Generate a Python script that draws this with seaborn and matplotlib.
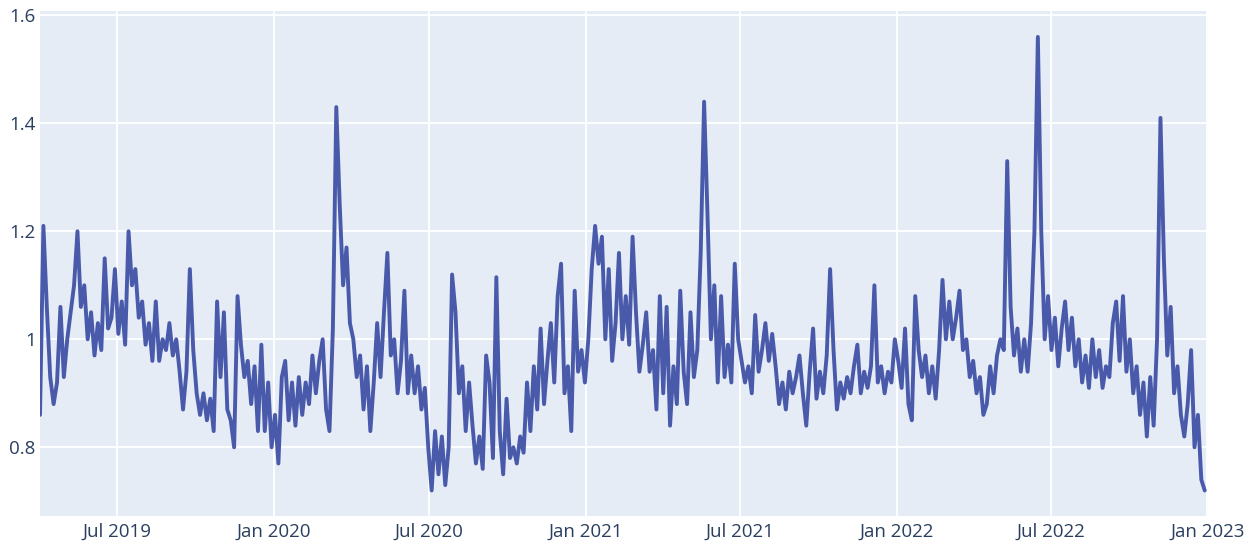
import pandas as pd
import numpy as np
import matplotlib
matplotlib.use("Agg")
import matplotlib.pyplot as plt
import matplotlib.dates as mdates
import seaborn as sb

# readings every 4 days starting 2019-04-01
start_date = "2019-04-01"
step = "4D"
values = [
    0.86, 1.21, 1.06, 0.93, 0.88, 0.92, 1.06, 0.93, 1.0, 1.05,
    1.1, 1.2, 1.06, 1.1, 1.0, 1.05, 0.97, 1.03, 0.98, 1.15,
    1.02, 1.04, 1.13, 1.01, 1.07, 0.99, 1.2, 1.1, 1.13, 1.04,
    1.07, 0.99, 1.03, 0.96, 1.07, 0.96, 1.0, 0.98, 1.03, 0.97,
    1.0, 0.94, 0.87, 0.94, 1.13, 0.98, 0.9, 0.86, 0.9, 0.85,
    0.89, 0.83, 1.07, 0.93, 1.05, 0.87, 0.85, 0.80, 1.08, 0.99,
    0.93, 0.96, 0.88, 0.95, 0.83, 0.99, 0.83, 0.92, 0.8, 0.86,
    0.77, 0.93, 0.96, 0.85, 0.92, 0.84, 0.93, 0.86, 0.92, 0.88,
    0.97, 0.9, 0.96, 1.0, 0.87, 0.83, 1.02, 1.43, 1.25, 1.1,
    1.17, 1.03, 1.0, 0.93, 0.97, 0.87, 0.95, 0.83, 0.92, 1.03,
    0.93, 1.05, 1.16, 0.97, 1.0, 0.9, 0.96, 1.09, 0.9, 0.97,
    0.9, 0.95, 0.87, 0.91, 0.8, 0.72, 0.83, 0.75, 0.82, 0.73,
    0.8, 1.12, 1.05, 0.9, 0.95, 0.83, 0.92, 0.84, 0.77, 0.82,
    0.76, 0.97, 0.92, 0.78, 1.115, 0.83, 0.75, 0.89, 0.78, 0.8,
    0.77, 0.82, 0.79, 0.92, 0.83, 0.95, 0.87, 1.02, 0.88, 0.96,
    1.03, 0.92, 1.08, 1.14, 0.9, 0.95, 0.83, 1.09, 0.94, 0.98,
    0.92, 1.0, 1.13, 1.21, 1.14, 1.19, 1.0, 1.13, 0.96, 1.03,
    1.16, 1.0, 1.08, 0.99, 1.19, 1.05, 0.94, 0.99, 1.05, 0.94,
    0.98, 0.87, 1.08, 0.9, 1.06, 0.84, 0.95, 0.88, 1.09, 0.94,
    0.88, 1.05, 0.93, 0.98, 1.16, 1.44, 1.23, 1.0, 1.1, 0.92,
    1.08, 0.93, 0.99, 0.92, 1.14, 1.0, 0.96, 0.92, 0.95, 0.9,
    1.045, 0.94, 0.98, 1.03, 0.96, 1.01, 0.95, 0.88, 0.92, 0.87,
    0.94, 0.9, 0.93, 0.97, 0.9, 0.84, 0.94, 1.02, 0.89, 0.94,
    0.9, 0.97, 1.13, 0.98, 0.87, 0.92, 0.89, 0.93, 0.9, 0.95,
    0.99, 0.9, 0.94, 0.91, 0.95, 1.1, 0.92, 0.95, 0.9, 0.94,
    0.92, 1.0, 0.96, 0.91, 1.02, 0.88, 0.85, 1.08, 0.98, 0.93,
    0.97, 0.9, 0.95, 0.89, 0.98, 1.11, 1.0, 1.07, 1.0, 1.04,
    1.09, 0.98, 1.0, 0.93, 0.96, 0.9, 0.93, 0.86, 0.88, 0.95,
    0.9, 0.97, 1.0, 0.98, 1.33, 1.06, 0.97, 1.02, 0.94, 1.0,
    0.94, 1.03, 1.2, 1.56, 1.2, 1.0, 1.08, 0.98, 1.04, 0.95,
    1.02, 1.07, 0.98, 1.04, 0.95, 1.0, 0.92, 0.97, 0.91, 1.0,
    0.93, 0.98, 0.91, 0.95, 0.93, 1.03, 1.07, 0.96, 1.08, 0.94,
    1.0, 0.9, 0.95, 0.86, 0.92, 0.82, 0.93, 0.84, 1.0, 1.41,
    1.15, 0.97, 1.06, 0.9, 0.95, 0.86, 0.82, 0.88, 0.98, 0.8,
    0.86, 0.74, 0.72,
]
x_ticks = ["2019-07-01", "2020-01-01", "2020-07-01", "2021-01-01",
           "2021-07-01", "2022-01-01", "2022-07-01", "2023-01-01"]
y_ticks = [0.8, 1.0, 1.2, 1.4, 1.6]
y_labels = ["0.8", "1", "1.2", "1.4", "1.6"]


def main():
    data = pd.DataFrame({
        "date": pd.date_range(start_date, periods=len(values), freq=step),
        "value": values,
    })

    sb.set_style("darkgrid", {"axes.facecolor": "#E5ECF6", "grid.color": "white"})
    plt.rcParams["font.family"] = ["Open Sans", "DejaVu Sans"]

    fig = plt.figure(figsize=(12.55, 5.41), dpi=100)
    ax = fig.add_axes([40 / 1255, (541 - 515.7) / 541, 1168 / 1255, 504.7 / 541])
    sb.lineplot(data=data, x="date", y="value", ax=ax, color="#4a5aab", linewidth=2.8)

    ax.set_xlim(pd.Timestamp("2019-04-01"), pd.Timestamp("2023-01-01 20:00"))
    ax.set_ylim(0.6733, 1.608)
    ax.set_xticks(pd.to_datetime(x_ticks))
    ax.xaxis.set_major_formatter(mdates.DateFormatter("%b %Y"))
    ax.set_yticks(y_ticks)
    ax.set_yticklabels(y_labels)
    ax.grid(True, color="white", linewidth=1.3)
    ax.tick_params(axis="both", length=0, labelsize=13.5, labelcolor="#2a3f5f")
    ax.tick_params(axis="x", pad=5)
    ax.tick_params(axis="y", pad=3)
    ax.set_xlabel("")
    ax.set_ylabel("")
    for s in ax.spines.values():
        s.set_visible(False)

    fig.savefig("out.png", dpi=100, facecolor="white")


if __name__ == "__main__":
    main()
